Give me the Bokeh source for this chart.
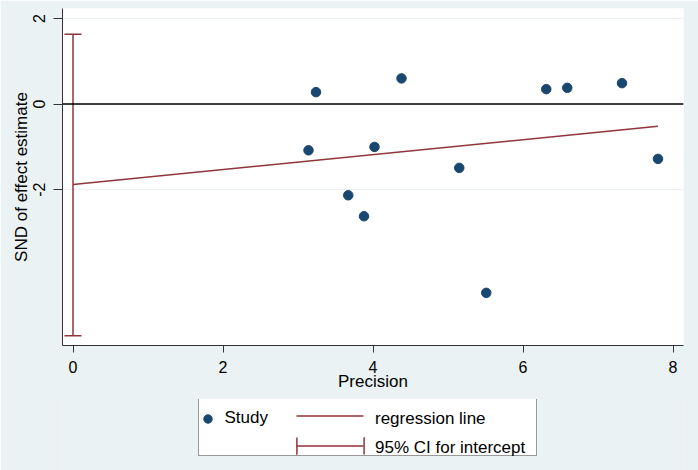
from bokeh.plotting import figure
from bokeh.layouts import column
from bokeh.models import (Range1d, FixedTicker, Span, Whisker, TeeHead,
                          ColumnDataSource, Legend, LegendItem)
from bokeh.embed import file_html
from bokeh.resources import INLINE

# ---- data ----
precision = [3.14, 3.24, 3.67, 3.88, 4.02, 4.38, 5.15, 5.51, 6.31, 6.59, 7.32, 7.80]
snd = [-1.08, 0.28, -2.13, -2.62, -1.00, 0.60, -1.49, -4.41, 0.35, 0.38, 0.49, -1.28]
reg_x = [0.0, 7.80]
reg_y = [-1.88, -0.52]
ci_x = [0.0]
ci_lower = [-5.41]
ci_upper = [1.63]
x_ticks = [0, 2, 4, 6, 8]
y_ticks = [-2, 0, 2]
y_tick_labels = ["-2", "0", "2"]
series_labels = ["Study", "regression line", "95% CI for intercept"]

NAVY = "#1A476F"
MAROON = "#90353B"
BG = "#EAF2F3"
AXC = "#333333"
FONT = "Liberation Sans"

# ---- main plot ----
p = figure(width=698, height=400, output_backend="svg", toolbar_location=None,
           x_range=Range1d(-0.14, 8.14), y_range=Range1d(-5.64, 2.234),
           min_border_left=62, min_border_right=15, min_border_top=8,
           min_border_bottom=55, border_fill_color=BG,
           background_fill_color="white", outline_line_color=None)

p.xgrid.visible = False
p.ygrid.grid_line_color = BG
p.ygrid.grid_line_width = 1

p.xaxis.ticker = FixedTicker(ticks=x_ticks)
p.yaxis.ticker = FixedTicker(ticks=y_ticks)
p.yaxis.major_label_overrides = dict(zip(y_ticks, y_tick_labels))
p.yaxis.major_label_orientation = "vertical"
p.xaxis.axis_label = "Precision"
p.yaxis.axis_label = "SND of effect estimate"
for ax in (p.xaxis[0], p.yaxis[0]):
    ax.axis_line_color = AXC
    ax.major_tick_line_color = AXC
    ax.major_tick_in = 0
    ax.minor_tick_in = 0
    ax.minor_tick_out = 0
    ax.major_label_text_font = FONT
    ax.major_label_text_font_size = "16px"
    ax.major_label_text_color = "black"
    ax.axis_label_text_font = FONT
    ax.axis_label_text_font_size = "17px"
    ax.axis_label_text_font_style = "normal"
    ax.axis_label_text_color = "black"
p.xaxis.major_tick_out = 7
p.yaxis.major_tick_out = 9
p.xaxis.major_label_standoff = 8
p.yaxis.major_label_standoff = 8
p.xaxis.axis_label_standoff = -4
p.yaxis.axis_label_standoff = 0

p.add_layout(Span(location=0, dimension="width", line_color="black", line_width=1.5))

pts = p.scatter(precision, snd, size=9.5, color=NAVY)
p.line(reg_x, reg_y, line_color=MAROON, line_width=1.5)

ci_src = ColumnDataSource(dict(base=ci_x, lower=ci_lower, upper=ci_upper))
p.add_layout(Whisker(source=ci_src, base="base", lower="lower", upper="upper",
                     dimension="height", line_color=MAROON, line_width=1.5,
                     upper_head=TeeHead(size=17, line_color=MAROON, line_width=1.5),
                     lower_head=TeeHead(size=17, line_color=MAROON, line_width=1.5)))

# ---- legend strip (key renderers are hidden; they only style the legend symbols) ----
q = figure(width=698, height=71, output_backend="svg", toolbar_location=None,
           x_range=Range1d(-0.14, 8.14), y_range=Range1d(-5.64, 2.234),
           min_border_left=62, min_border_right=15, min_border_top=0,
           min_border_bottom=0, x_axis_location=None, y_axis_location=None,
           border_fill_color=BG, background_fill_color=BG, outline_line_color=None,
           margin=(-1, 0, 0, 0))
q.grid.visible = False

study_key = q.scatter(precision, snd, size=9.5, color=NAVY, visible=False)
blank = q.line(reg_x, reg_y, line_alpha=0, visible=False)
reg_key = q.line(reg_x, reg_y, line_color=MAROON, line_width=1.5,
                 line_dash="0 8 67 100", visible=False)
ci_key_line = q.segment(x0=ci_x, y0=ci_lower, x1=ci_x, y1=ci_upper, line_color=MAROON,
                        line_width=1.5, line_dash="0 8 67 100", visible=False)
ci_key_caps = q.quad(left=ci_x, right=ci_x, bottom=ci_lower, top=ci_upper, fill_color=None,
                     line_color=MAROON, line_width=1.5, line_dash="0 67 17 67 17",
                     visible=False)

common = dict(margin=0, padding=0, glyph_height=21, label_height=21,
              label_text_font=FONT, label_text_font_size="17px",
              label_text_color="black", inactive_fill_alpha=0, click_policy="none",
              border_line_color=None, background_fill_alpha=0)

def leg(label, renderers, loc, gw, standoff):
    return Legend(items=[LegendItem(label=label, renderers=renderers)],
                  location=loc, glyph_width=gw, label_standoff=standoff, **common)

# frame: left edge at page x=62, bottom edge at page y=470
box = Legend(items=[LegendItem(label=" ", renderers=[blank])],
             location=(136, 14), padding=3, glyph_width=1, label_width=330,
             label_standoff=0, margin=0, glyph_height=21, label_height=50,
             label_text_font=FONT, label_text_font_size="17px",
             inactive_fill_alpha=0, click_policy="none",
             border_line_color=AXC, border_line_width=1,
             background_fill_color="white", background_fill_alpha=1)
legends = [
    box,
    leg(series_labels[0], [study_key], (134.5, 41.5), 21, 7),
    leg(" ", [reg_key], (226, 44.5), 84, 0),
    leg(series_labels[1], [blank], (226, 40.5), 84, 3),
    leg(" ", [ci_key_line, ci_key_caps], (226, 14.5), 84, 0),
    leg(series_labels[2], [blank], (226, 12), 84, 3),
]
for lg in legends:
    q.add_layout(lg)

layout = column(p, q, spacing=0)

html = file_html(layout, INLINE)
html = html.replace("<body>", '<body style="margin:0;overflow:hidden;background-color:#EAF2F3;">', 1)
open("out.html", "w").write(html)
